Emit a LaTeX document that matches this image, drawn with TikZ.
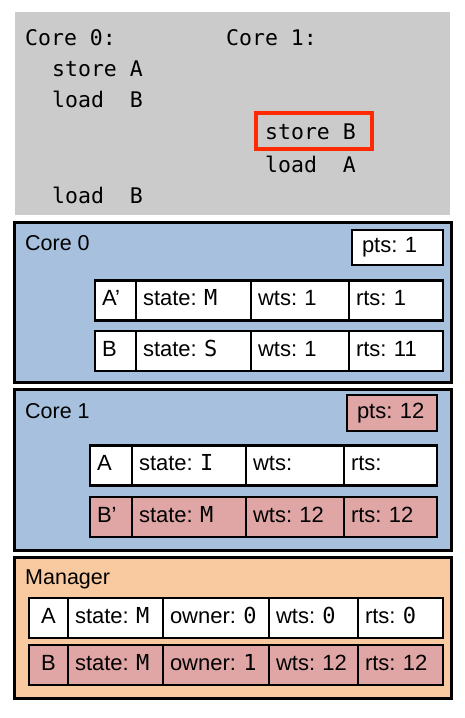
\documentclass[tikz,border=0pt]{standalone}
\usepackage{fontspec}
\setmainfont{Liberation Sans}
\setmonofont{DejaVu Sans Mono}
\usetikzlibrary{positioning}
\definecolor{codebg}{HTML}{CBCBCB}
\definecolor{corebg}{HTML}{A7C0DE}
\definecolor{mgrbg}{HTML}{F9C9A0}
\definecolor{dirty}{HTML}{E0A6A5}
\definecolor{hilite}{HTML}{FF2A00}
\frenchspacing

\begin{document}
\begin{tikzpicture}[x=1pt,y=-1pt,
		code/.style={anchor=base west,inner sep=0pt,font=\fontsize{21.5}{26}\ttfamily},
		panel/.style={draw,line width=3pt,minimum width=437,inner sep=0pt},
		title/.style={anchor=base west,inner sep=0pt,font=\fontsize{21.5}{25}\selectfont},
		cell/.style={draw,fill=white,line width=2.8pt,outer sep=0pt,minimum height=40,inner xsep=7pt,inner ysep=0pt,
			text width=#1,text height=15pt,text depth=5pt,font=\fontsize{22}{25}\selectfont},
		dcell/.style={cell=#1,fill=dirty},
		ptsbox/.style={draw,fill=white,line width=2.8pt,minimum height=35,inner xsep=10pt,inner ysep=0pt,
			text width=#1,text height=15pt,text depth=5pt,font=\fontsize{22}{25}\selectfont}]
		\useasboundingbox (0,0) rectangle (465,718);
		
		% the program
		\node[fill=codebg,minimum width=435,minimum height=203,inner sep=0pt] (prog) at (232.5,113.5) {};
		\node[code] (p0) at (25,45) {Core 0:};
		\node[code] (p1) at (226,45) {Core 1:};
		\node[code] (s0a) at (52,76) {store A};
		\node[code] (l0b) at (52,107) {load~~B};
		\node[draw=hilite,line width=3.5pt,minimum width=116,minimum height=36,inner sep=0pt] (hl) at (314,131) {};
		\node[code] (s1b) at (265,139) {store B};
		\node[code] (l1a) at (265,172) {load~~A};
		\node[code] (l0b2) at (52,203) {load~~B};
		
		% core 0
		\node[panel,fill=corebg,minimum height=160] (core0) at (232.5,302) {};
		\node[title] (t0) at (25,250) {Core 0};
		\node[ptsbox=71] (pts0) at (397.5,247.5) {pts: 1};
		\node[cell=27,anchor=west] (c0a) at (95,300.5) {A'};
		\node[cell=101,right=0pt of c0a] (c0as) {state: \texttt{M}};
		\node[cell=84,right=0pt of c0as] (c0aw) {wts: 1};
		\node[cell=80,right=0pt of c0aw] (c0ar) {rts: 1};
		\node[cell=27,anchor=west] (c0b) at (95,351) {B};
		\node[cell=101,right=0pt of c0b] (c0bs) {state: \texttt{S}};
		\node[cell=84,right=0pt of c0bs] (c0bw) {wts: 1};
		\node[cell=80,right=0pt of c0bw] (c0br) {rts: 11};
		
		% core 1
		\node[panel,fill=corebg,minimum height=161] (core1) at (232.5,469.5) {};
		\node[title] (t1) at (25,418) {Core 1};
		\node[ptsbox=70,fill=dirty,minimum height=36] (pts1) at (392,413) {pts: 12};
		\node[cell=28,anchor=west] (c1a) at (90,465.5) {A};
		\node[cell=100,right=0pt of c1a] (c1as) {state: \texttt{I}};
		\node[cell=84,right=0pt of c1as] (c1aw) {wts:};
		\node[cell=79,right=0pt of c1aw] (c1ar) {rts:};
		\node[dcell=28,anchor=west] (c1b) at (90,517) {B'};
		\node[dcell=100,right=0pt of c1b] (c1bs) {state: \texttt{M}};
		\node[dcell=84,right=0pt of c1bs] (c1bw) {wts: 12};
		\node[dcell=79,right=0pt of c1bw] (c1br) {rts: 12};
		
		% manager
		\node[panel,fill=mgrbg,minimum height=141] (mgr) at (232.5,627.5) {};
		\node[title] (tm) at (25,584) {Manager};
		\node[cell=25,anchor=west,align=center] (ma) at (29,618) {A};
		\node[cell=81,right=0pt of ma] (mas) {state: \texttt{M}};
		\node[cell=92,right=0pt of mas] (mao) {owner: \texttt{0}};
		\node[cell=75,right=0pt of mao] (maw) {wts: \texttt{0}};
		\node[cell=71,right=0pt of maw] (mar) {rts: \texttt{0}};
		\node[dcell=25,anchor=west,align=center] (mb) at (29,665) {B};
		\node[dcell=81,right=0pt of mb] (mbs) {state: \texttt{M}};
		\node[dcell=92,right=0pt of mbs] (mbo) {owner: \texttt{1}};
		\node[dcell=75,right=0pt of mbo] (mbw) {wts: 12};
		\node[dcell=71,right=0pt of mbw] (mbr) {rts: 12};
\end{tikzpicture}
\end{document}
